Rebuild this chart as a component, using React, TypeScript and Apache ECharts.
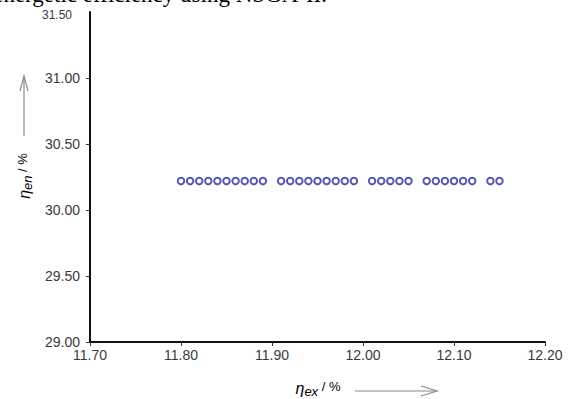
import React, { useEffect, useRef } from "react";
import * as echarts from "echarts";

const exergyEff: number[] = [
  11.8, 11.81, 11.82, 11.83, 11.84, 11.85, 11.86, 11.87, 11.88, 11.89,
  11.91, 11.92, 11.93, 11.94, 11.95, 11.96, 11.97, 11.98, 11.99,
  12.01, 12.02, 12.03, 12.04, 12.05,
  12.07, 12.08, 12.09, 12.1, 12.11, 12.12,
  12.14, 12.15,
];
const energyEff: number[] = [
  30.22, 30.22, 30.22, 30.22, 30.22, 30.22, 30.22, 30.22, 30.22, 30.22,
  30.22, 30.22, 30.22, 30.22, 30.22, 30.22, 30.22, 30.22, 30.22,
  30.22, 30.22, 30.22, 30.22, 30.22,
  30.22, 30.22, 30.22, 30.22, 30.22, 30.22,
  30.22, 30.22,
];
const xTicks = { min: 11.7, max: 12.2, interval: 0.1 };
const yTicks = { min: 29.0, max: 31.5, interval: 0.5 };
const titleText = "energetic efficiency using NSGA-II.";

export default function App() {
  const ref = useRef<HTMLDivElement>(null);
  useEffect(() => {
    if (!ref.current) return;
    const chart = echarts.init(ref.current, null, { renderer: "svg" });
    const labelFont = "Liberation Sans, Arial, sans-serif";
    const nameRich = {
      g: { fontSize: 16, fontStyle: "italic", color: "#404040", fontFamily: labelFont },
      s: { fontSize: 13, fontStyle: "italic", color: "#404040", fontFamily: labelFont, padding: [7, 0, 0, 0] },
      n: { fontSize: 13, color: "#404040", fontFamily: labelFont, padding: [0, 0, 3, 0] },
    };
    chart.setOption({
      animation: false,
      backgroundColor: "#ffffff",
      grid: { left: 90, right: 24, top: 12, bottom: 57 },
      xAxis: {
        type: "value",
        min: xTicks.min,
        max: xTicks.max,
        interval: xTicks.interval,
        splitLine: { show: false },
        axisLine: { show: true, onZero: false, lineStyle: { color: "#111", width: 2 } },
        axisTick: { show: true, length: 4, lineStyle: { color: "#333", width: 1 } },
        axisLabel: {
          margin: 6,
          fontSize: 14,
          color: "#3a3a3a",
          fontFamily: labelFont,
          formatter: (v: number) => v.toFixed(2),
        },
      },
      yAxis: {
        type: "value",
        min: yTicks.min,
        max: yTicks.max,
        interval: yTicks.interval,
        splitLine: { show: false },
        axisLine: { show: true, onZero: false, lineStyle: { color: "#111", width: 2 } },
        axisTick: { show: true, length: 4, lineStyle: { color: "#333", width: 1 } },
        axisLabel: {
          margin: 10,
          fontSize: 14,
          color: "#3a3a3a",
          fontFamily: labelFont,
          showMaxLabel: false,
          formatter: (v: number) => v.toFixed(2),
        },
      },
      series: [
        {
          type: "scatter",
          data: exergyEff.map((x, i) => [x, energyEff[i]]),
          symbol: "emptyCircle",
          symbolSize: 6.5,
          itemStyle: { color: "#2c2ca0", borderWidth: 1.6 },
        },
      ],
      graphic: [
        {
          type: "text",
          style: {
            x: 327,
            y: 6,
            text: titleText,
            fontFamily: "Liberation Serif, Times New Roman, serif",
            fontWeight: "normal",
            fontSize: 23,
            fill: "#000",
            textAlign: "right",
            textVerticalAlign: "bottom",
          },
        },
        {
          type: "text",
          style: {
            x: 72,
            y: 15,
            text: "31.50",
            fontFamily: labelFont,
            fontSize: 12,
            fill: "#3a3a3a",
            textAlign: "right",
            textVerticalAlign: "middle",
          },
        },
        // y axis name with arrow
        {
          type: "text",
          x: 24,
          y: 176,
          rotation: Math.PI / 2,
          style: {
            x: 0,
            y: 0,
            text: "{g|η}{s|en}{n| / %}",
            textAlign: "center",
            textVerticalAlign: "middle",
            rich: nameRich,
          },
        },
        { type: "line", shape: { x1: 24, y1: 136, x2: 24, y2: 76 }, style: { stroke: "#8a8a8a", lineWidth: 1.2 } },
        { type: "polyline", shape: { points: [[20, 91], [24, 76], [28, 91]] }, style: { stroke: "#8a8a8a", lineWidth: 1.2, fill: "none" } },
        // x axis name with arrow
        {
          type: "text",
          style: {
            x: 318,
            y: 388,
            text: "{g|η}{s|ex}{n| / %}",
            textAlign: "center",
            textVerticalAlign: "middle",
            rich: nameRich,
          },
        },
        { type: "line", shape: { x1: 355, y1: 391, x2: 437, y2: 391 }, style: { stroke: "#8a8a8a", lineWidth: 1.2 } },
        { type: "polyline", shape: { points: [[421, 386], [437, 391], [421, 396]] }, style: { stroke: "#8a8a8a", lineWidth: 1.2, fill: "none" } },
      ],
    });
    return () => chart.dispose();
  }, []);
  return <div ref={ref} style={{ width: 569, height: 399, position: "fixed", left: 0, top: 0 }} />;
}
